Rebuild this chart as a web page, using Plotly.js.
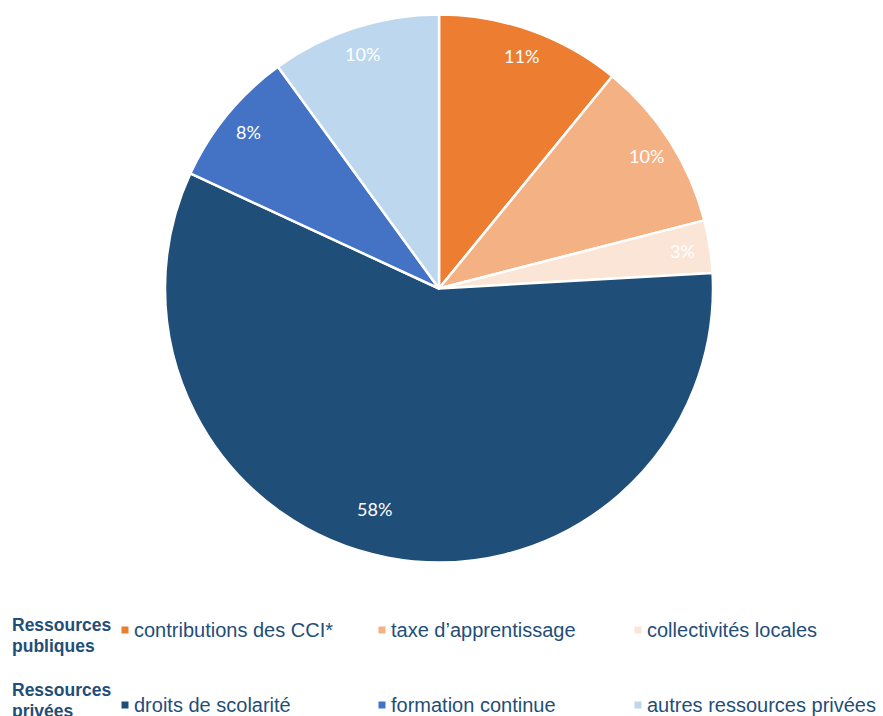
<!DOCTYPE html>
<html><head><meta charset="utf-8">
<script src="https://cdn.plot.ly/plotly-3.0.1.min.js"></script>
<style>html,body{margin:0;padding:0;background:#fff}#chart{width:883px;height:716px}</style>
</head><body><div id="chart"></div>
<script>
const categories = ["contributions des CCI*", "taxe d’apprentissage", "collectivités locales", "droits de scolarité", "formation continue", "autres ressources privées"];
const values = [10.9, 10.1, 3.1, 57.8, 8.1, 10.0];
const colors = ["#ED7D31", "#F4B183", "#FBE5D6", "#1F4E79", "#4472C4", "#BDD7EE"];
const groupLabels = [["Ressources", "publiques"], ["Ressources", "privées"]];

const W = 883, H = 716;
const cx = 439, cy = 288.5, R = 274;
const textColor = "#1F4E79";

const data = [{
  type: "pie",
  values: values,
  labels: categories,
  sort: false,
  direction: "clockwise",
  rotation: 0,
  marker: {colors: colors, line: {color: "#ffffff", width: 2.5}},
  textinfo: "none",
  hoverinfo: "label+percent",
  showlegend: false,
  domain: {x: [(cx - R) / W, (cx + R) / W], y: [1 - (cy + R) / H, 1 - (cy - R) / H]}
}];

const annotations = [];
const shapes = [];
// percent labels
const total = values.reduce((a, b) => a + b, 0);
let cum = 0;
values.forEach((v, i) => {
  let mid = (cum + v / 2) / total * 2 * Math.PI;
  cum += v;
  const big = v > 40;
  if (big) mid += 5.5 * Math.PI / 180;
  const f = big ? 0.84 : 0.9;
  const px = cx + f * R * Math.sin(mid);
  const py = cy - f * R * Math.cos(mid);
  annotations.push({
    xref: "paper", yref: "paper", x: px / W, y: 1 - py / H,
    xanchor: "center", yanchor: "middle", showarrow: false,
    text: Math.round(v / total * 100) + "%",
    font: {family: "Lato, 'Open Sans', sans-serif", size: 18, color: "#ffffff"}
  });
});

// custom legend
const rowY = [630, 705];
const groupY = [[625, 646], [690, 711]];
const colX = [125, 382, 638];
groupLabels.forEach((g, r) => {
  g.forEach((line, j) => {
    annotations.push({
      xref: "paper", yref: "paper", x: 10 / W, y: 1 - groupY[r][j] / H,
      xanchor: "left", yanchor: "middle", showarrow: false, align: "left",
      text: "<b>" + line + "</b>",
      font: {family: "'Liberation Sans', Arial, sans-serif", size: 17.5, color: textColor}
    });
  });
});
categories.forEach((c, i) => {
  const r = Math.floor(i / 3), k = i % 3;
  const x = colX[k], y = rowY[r];
  shapes.push({type: "rect", xref: "paper", yref: "paper",
    x0: (x - 3.5) / W, x1: (x + 3.5) / W, y0: 1 - (y + 3.5) / H, y1: 1 - (y - 3.5) / H,
    fillcolor: colors[i], line: {width: 0}});
  annotations.push({
    xref: "paper", yref: "paper", x: (x + 7) / W, y: 1 - y / H,
    xanchor: "left", yanchor: "middle", showarrow: false,
    text: c,
    font: {family: "'Liberation Sans', Arial, sans-serif", size: 20, color: textColor}
  });
});

const layout = {
  width: W, height: H,
  margin: {l: 0, r: 0, t: 0, b: 0},
  paper_bgcolor: "#ffffff",
  annotations: annotations,
  shapes: shapes
};
Plotly.newPlot("chart", data, layout, {displayModeBar: false, staticPlot: true});
</script>
</body></html>
